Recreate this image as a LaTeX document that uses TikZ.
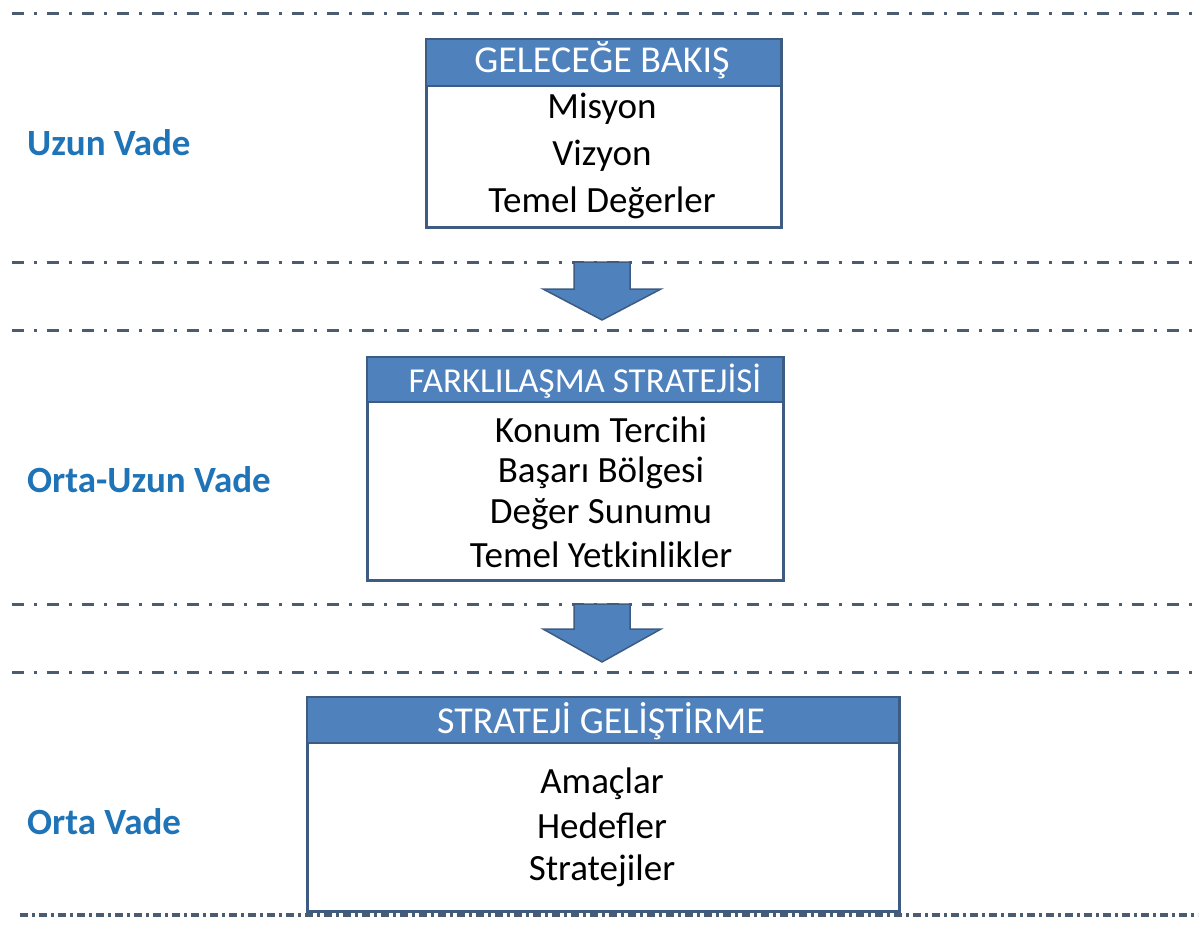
\documentclass[tikz,border=0pt]{standalone}
\usepackage{fontspec}
\setmainfont{Carlito}
\usetikzlibrary{calc}
\definecolor{hdrblue}{HTML}{4F81BD}
\definecolor{bordblue}{HTML}{3E5B82}
\definecolor{linegray}{HTML}{4B5B70}
\definecolor{lblblue}{HTML}{1F73B7}
\tikzset{
  sepline/.style={draw=linegray, line width=3pt, dash pattern=on 12pt off 10pt on 3pt off 10pt},
  sepbottom/.style={draw=linegray, line width=3.5pt, dash pattern=on 8pt off 4pt on 3pt off 4pt},
  hdrbox/.style={rectangle, draw=bordblue, line width=2pt, fill=hdrblue, inner sep=0pt, anchor=north west},
  hdrtext/.style={text=white, inner sep=0pt, anchor=base, font=\fontsize{38}{40}\selectfont},
  bodybox/.style={rectangle, draw=bordblue, line width=3pt, fill=white, inner sep=0pt, anchor=north west},
  item/.style={font=\fontsize{37}{39}\selectfont, text=black, inner sep=0pt, anchor=base},
  sidelabel/.style={font=\bfseries\fontsize{37}{39}\selectfont, text=lblblue, anchor=base west, inner sep=0pt},
  blockarrow/.style={fill=hdrblue, draw=bordblue, line width=1.5pt, line join=miter}
}
\begin{document}
\begin{tikzpicture}[x=1pt,y=-1pt]
\useasboundingbox (0,0) rectangle (1203,934);
% separator lines
\foreach \yy/\nm in {14/s1,262/s2,330/s3,604/s4,672/s5}{
  \coordinate (\nm a) at (12,\yy);
  \coordinate (\nm b) at (1198,\yy);
  \draw[sepline] (\nm a) -- (\nm b);
}
\coordinate (s6a) at (20,915);
\coordinate (s6b) at (1198,915);
\draw[sepbottom] (s6a) -- (s6b);

% box 1
\node[bodybox, minimum width=355pt, minimum height=188pt] (b1) at (425,38) {};
\node[hdrbox, minimum width=355pt, minimum height=47pt] (h1) at (425,38) {};
\node[hdrtext] (h1t) at (602,73) {GELECEĞE BAKIŞ};
\node[item] (t11) at (602,118) {Misyon};
\node[item] (t12) at (602,165) {Vizyon};
\node[item] (t13) at (602,212) {Temel Değerler};

% arrow 1
\coordinate (a1) at (602,262);
\draw[blockarrow] ($(a1)+(-28,0)$) -- ($(a1)+(28,0)$) -- ($(a1)+(28,27)$) -- ($(a1)+(59,27)$) -- ($(a1)+(0,58)$) -- ($(a1)+(-59,27)$) -- ($(a1)+(-28,27)$) -- cycle;

% box 2
\node[bodybox, minimum width=416pt, minimum height=223pt] (b2) at (366,356) {};
\node[hdrbox, minimum width=416pt, minimum height=45pt] (h2) at (366,356) {};
\node[hdrtext, font=\fontsize{35}{37}\selectfont] (h2t) at (585,392) {FARKLILAŞMA STRATEJİSİ};
\node[item] (t21) at (601,442) {Konum Tercihi};
\node[item] (t22) at (601,482) {Başarı Bölgesi};
\node[item] (t23) at (601,523) {Değer Sunumu};
\node[item] (t24) at (601,567) {Temel Yetkinlikler};

% arrow 2
\coordinate (a2) at (602,604);
\draw[blockarrow] ($(a2)+(-28,0)$) -- ($(a2)+(28,0)$) -- ($(a2)+(28,25)$) -- ($(a2)+(59,25)$) -- ($(a2)+(0,58)$) -- ($(a2)+(-59,25)$) -- ($(a2)+(-28,25)$) -- cycle;

% box 3
\node[bodybox, minimum width=592pt, minimum height=214pt] (b3) at (306,696) {};
\node[hdrbox, minimum width=592pt, minimum height=46pt] (h3) at (306,696) {};
\node[hdrtext] (h3t) at (601,733) {STRATEJİ GELİŞTİRME};
\node[item] (t31) at (602,793) {Amaçlar};
\node[item] (t32) at (602,838) {Hedefler};
\node[item] (t33) at (602,880) {Stratejiler};

% side labels
\node[sidelabel] (l1) at (27,155) {Uzun Vade};
\node[sidelabel] (l2) at (27,492) {Orta-Uzun Vade};
\node[sidelabel] (l3) at (27,834) {Orta Vade};
\end{tikzpicture}
\end{document}
